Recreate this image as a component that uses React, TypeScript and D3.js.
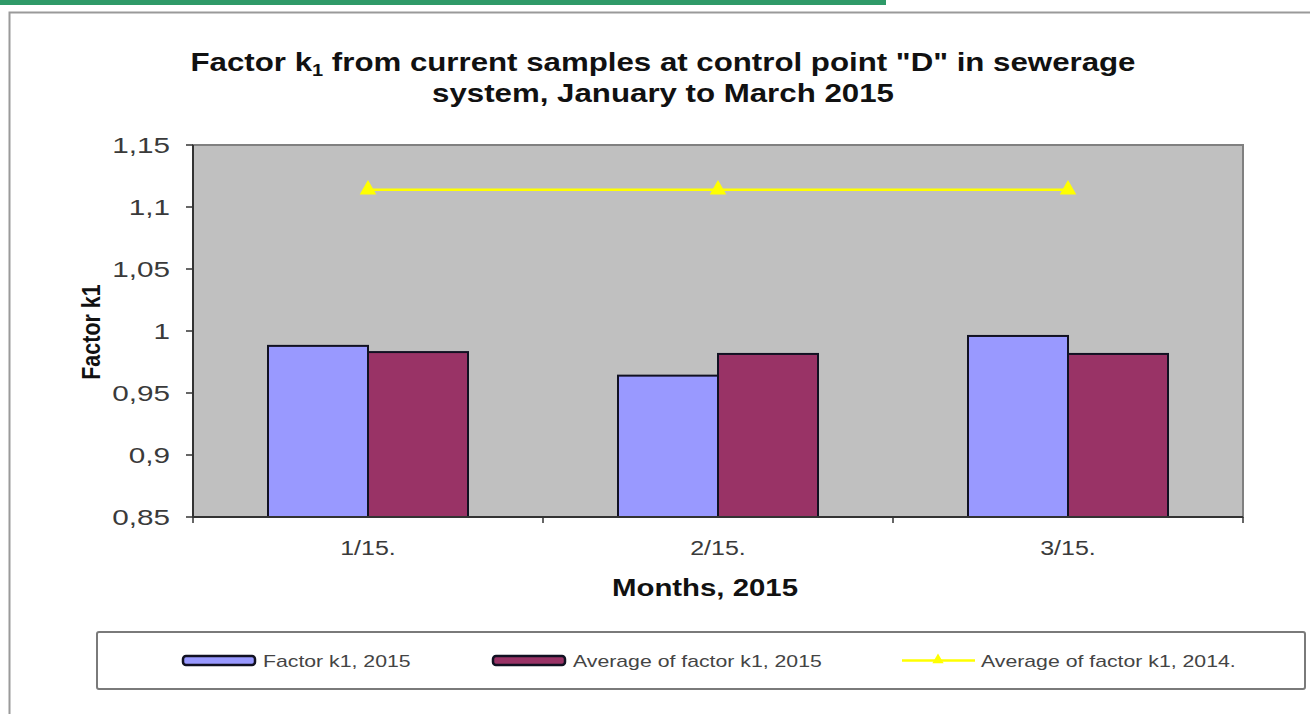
import React from "react";
import * as d3 from "d3";

const categories = ["1/15.", "2/15.", "3/15."];
const factor2015 = [0.988, 0.964, 0.996];
const avg2015 = [0.983, 0.9815, 0.9815];
const avg2014 = [1.114, 1.114, 1.114];
const yTicks = [0.85, 0.9, 0.95, 1, 1.05, 1.1, 1.15];
const seriesNames = ["Factor k1, 2015", "Average of factor k1, 2015", "Average of factor k1, 2014."];

const W = 1310, H = 714;
const plot = { left: 193, top: 145, right: 1243, bottom: 517 };
const FONT = "'Liberation Sans', Arial, sans-serif";

function T(props: { x: number; y: number; sx?: number; anchor?: string; size: number; bold?: boolean; fill?: string; children: React.ReactNode }) {
  const { x, y, sx = 1.25, anchor = "start", size, bold, fill = "#111", children } = props;
  return (
    <text transform={`translate(${x},${y}) scale(${sx},1)`} textAnchor={anchor} fontSize={size}
      fontWeight={bold ? "bold" : "normal"} fill={fill}>
      {children}
    </text>
  );
}

export default function App() {
  const x0 = d3.scaleBand().domain(categories).range([plot.left, plot.right]).paddingInner(0).paddingOuter(0);
  const groupW = x0.bandwidth() * (200 / 350);
  const x1 = d3.scaleBand().domain(["a", "b"]).range([0, groupW]);
  const y = d3.scaleLinear().domain([0.85, 1.15]).range([plot.bottom, plot.top]);
  const fmt = (v: number) => d3.format("")(+v.toFixed(2)).replace(".", ",");
  const cx = (c: string) => (x0(c) as number) + x0.bandwidth() / 2;
  const line = d3.line<number>().x((_, i) => cx(categories[i])).y((d) => y(d));
  const tri = d3.symbol(d3.symbolTriangle, 120)();
  const triSmall = d3.symbol(d3.symbolTriangle, 55)();

  return (
    <svg width={W} height={H} style={{ position: "absolute", left: 0, top: 0, background: "#fff" }} fontFamily={FONT}>
      <rect x={0} y={0} width={886} height={5} fill="#2f9a68" />
      <path d={`M9.5,${H} V12.5 H${W}`} fill="none" stroke="#9a9a9a" strokeWidth={2} />

      <T x={663} y={71} anchor="middle" size={25} bold>
        Factor k<tspan fontSize={16} dy={5}>1</tspan><tspan dy={-5}> from current samples at control point "D" in sewerage</tspan>
      </T>
      <T x={663} y={102} anchor="middle" size={25} bold>
        system, January to March 2015
      </T>

      <rect x={plot.left} y={plot.top} width={plot.right - plot.left} height={plot.bottom - plot.top} fill="#c0c0c0" stroke="#808080" strokeWidth={2} />

      {categories.map((c, i) => {
        const gx = cx(c) - groupW / 2;
        return (
          <g key={c}>
            <rect x={gx + (x1("a") as number)} y={y(factor2015[i])} width={x1.bandwidth()} height={plot.bottom - y(factor2015[i])}
              fill="#9999ff" stroke="#111122" strokeWidth={2} />
            <rect x={gx + (x1("b") as number)} y={y(avg2015[i])} width={x1.bandwidth()} height={plot.bottom - y(avg2015[i])}
              fill="#993366" stroke="#111122" strokeWidth={2} />
          </g>
        );
      })}

      <path d={line(avg2014) as string} fill="none" stroke="#ffff00" strokeWidth={2.5} />
      {avg2014.map((v, i) => (
        <path key={i} d={tri as string} transform={`translate(${cx(categories[i])},${y(v)})`} fill="#ffff00" />
      ))}

      <line x1={plot.left} x2={plot.left} y1={plot.top} y2={plot.bottom} stroke="#333" strokeWidth={2} />
      <line x1={plot.left} x2={plot.right} y1={plot.bottom} y2={plot.bottom} stroke="#333" strokeWidth={2} />
      {yTicks.map((t) => (
        <g key={t}>
          <line x1={plot.left - 7} x2={plot.left} y1={y(t)} y2={y(t)} stroke="#333" strokeWidth={1.5} />
          <T x={170} y={y(t) + 8} anchor="end" size={22} sx={1.35} fill="#3a3a3a">{fmt(t)}</T>
        </g>
      ))}
      {[0, 1, 2, 3].map((k) => {
        const xx = plot.left + k * x0.bandwidth();
        return <line key={k} x1={xx} x2={xx} y1={plot.bottom} y2={plot.bottom + 6} stroke="#333" strokeWidth={1.5} />;
      })}
      {categories.map((c) => (
        <T key={c} x={cx(c)} y={555} anchor="middle" size={20} fill="#3a3a3a">{c}</T>
      ))}
      <T x={705} y={596} anchor="middle" size={23.5} bold>Months, 2015</T>
      <text transform={`translate(100,332) scale(1.2,1) rotate(-90)`} textAnchor="middle" fontSize={21.5} fontWeight="bold" fill="#111">Factor k1</text>

      <rect x={97} y={632} width={1208} height={57} rx={2} fill="#fff" stroke="#7a7a7a" strokeWidth={2} />
      <rect x={183} y={656} width={72} height={9} rx={3} fill="#9999ff" stroke="#111122" strokeWidth={2.5} />
      <T x={263} y={667} size={17} fill="#444">{seriesNames[0]}</T>
      <rect x={493} y={656} width={72} height={9} rx={3} fill="#993366" stroke="#111122" strokeWidth={2.5} />
      <T x={573} y={667} size={17} fill="#444">{seriesNames[1]}</T>
      <line x1={902} x2={975} y1={660.5} y2={660.5} stroke="#ffff00" strokeWidth={2.5} />
      <path d={triSmall as string} transform="translate(938,660)" fill="#ffff00" />
      <T x={981} y={667} size={17} fill="#444">{seriesNames[2]}</T>
    </svg>
  );
}
